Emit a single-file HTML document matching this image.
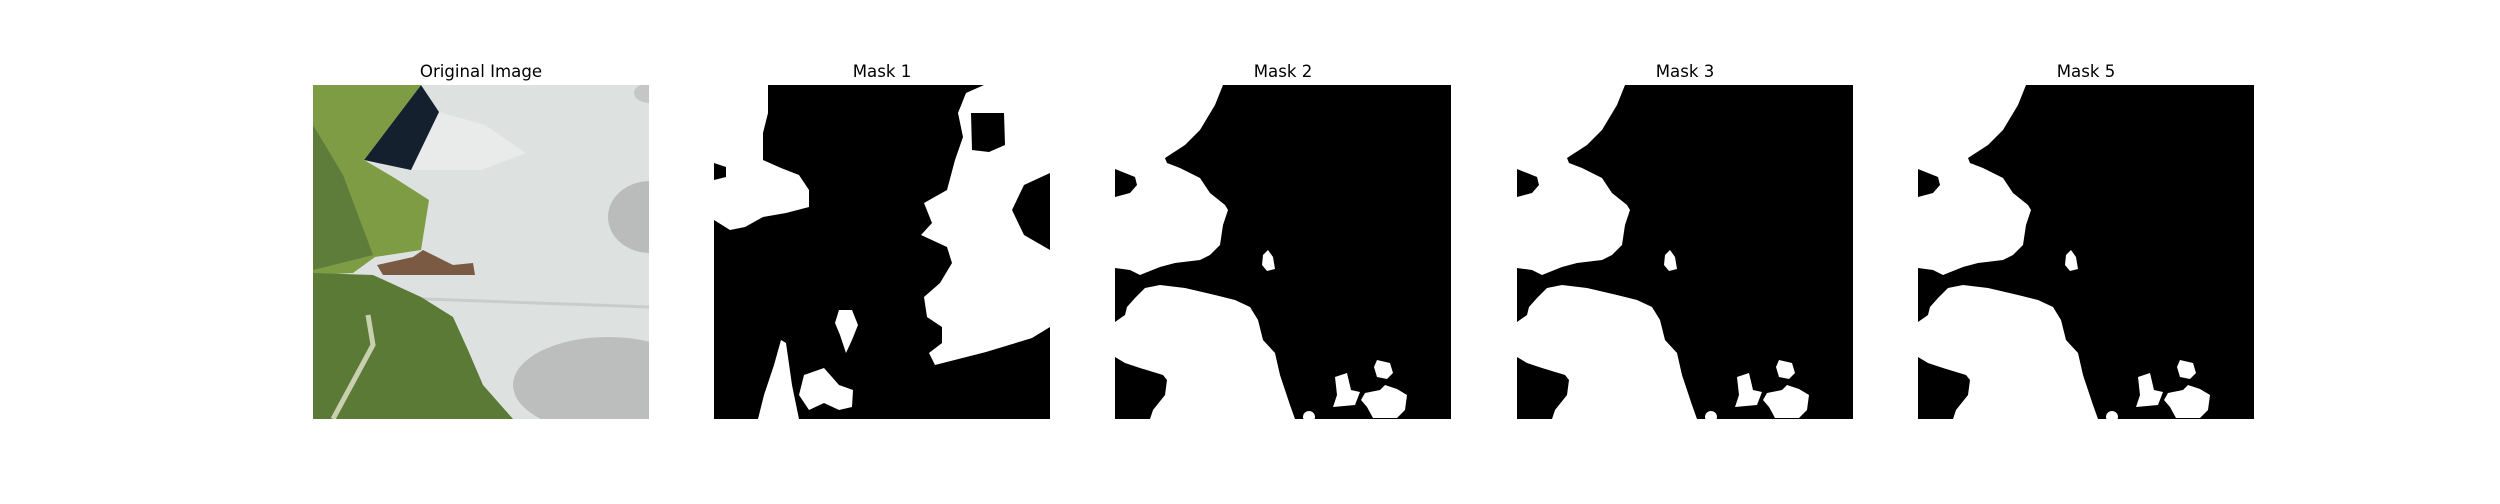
<!DOCTYPE html>
<html><head><meta charset="utf-8"><style>
html,body{margin:0;padding:0;background:#fff;}
body{width:2500px;height:500px;position:relative;overflow:hidden;font-family:"DejaVu Sans","Liberation Sans",sans-serif;}
</style></head><body>
<svg width="2500" height="500" viewBox="0 0 2500 500" xmlns="http://www.w3.org/2000/svg">
<defs>
<clipPath id="c"><rect x="0" y="0" width="336" height="334"/></clipPath>
<g id="mask23">
<rect x="0" y="0" width="336" height="334" fill="#000"/>
<path fill="#fff" d="M0,0 L108,0 L100,20 L85,45 L70,60 L50,73 L52,78 L65,83 L85,93 L95,108 L110,120 L113,125 L108,140 L105,160 L95,170 L85,175 L60,178 L45,182 L35,186 L25,190 L15,185 L0,183 L0,112 L15,108 L22,100 L20,92 L0,84 Z"/>
<path fill="#fff" d="M148,170 L153,165 L158,172 L160,184 L152,186 L147,180 Z"/>
<path fill="#fff" d="M0,237 L10,230 L12,222 L20,213 L30,203 L45,200 L70,203 L100,210 L120,215 L135,222 L143,235 L148,255 L160,268 L165,290 L170,305 L175,320 L180,334 L35,334 L38,325 L50,310 L52,295 L48,290 L25,283 L10,278 L0,272 Z"/>
<circle cx="194" cy="332" r="6" fill="#fff"/>
<path fill="#fff" d="M220,292 L232,288 L236,305 L245,307 L240,320 L218,322 L222,310 Z"/>
<path fill="#fff" d="M262,275 L275,278 L278,288 L272,294 L262,292 L259,282 Z"/>
<path fill="#fff" d="M250,308 L265,305 L270,300 L282,304 L292,310 L290,325 L282,333 L258,333 L252,322 L246,315 Z"/>
</g>
</defs>

<g transform="translate(313,85)">
<g clip-path="url(#c)">
<rect width="336" height="334" fill="#dde2e1"/>
<ellipse cx="337" cy="132" rx="42" ry="36" fill="#b9bcbb"/>
<ellipse cx="295" cy="300" rx="95" ry="48" fill="#bcbebd"/>
<ellipse cx="337" cy="8" rx="16" ry="10" fill="#c4c7c6"/>
<path d="M0,210 L336,222" stroke="#c9cccb" stroke-width="3"/>
<path d="M126,27 L172,40 L213,68 L168,85 L98,85 Z" fill="#e9ebeb"/>
<path d="M108,0 L126,27 L98,85 L51,75 Z" fill="#15202e"/>
<path d="M0,0 L108,0 L51,75 L80,92 L116,115 L108,165 L62,172 L40,188 L0,190 Z" fill="#7d9c44"/>
<path d="M0,40 L30,90 L60,170 L0,185 Z" fill="#5e7c3a"/>
<path d="M64,180 L100,172 L110,165 L140,180 L160,178 L162,190 L70,190 Z" fill="#7a5a42"/>
<path d="M0,188 L60,190 L108,212 L140,232 L155,265 L170,300 L200,334 L0,334 Z" fill="#5b7a35"/>
<path d="M20,334 L60,260 L55,230" stroke="#c8d0b0" stroke-width="5" fill="none"/>
</g>
</g>

<g transform="translate(714,85)">
<g clip-path="url(#c)">
<rect width="336" height="334" fill="#000"/>
<path fill="#fff" d="M0,0 L54,0 L54,28 L49,48 L49,75 L67,83 L85,90 L95,105 L95,122 L72,128 L49,132 L31,142 L16,145 L0,135 L0,95 L12,92 L12,82 L0,78 Z"/>
<path fill="#fff" d="M270,0 L336,0 L336,88 L310,100 L298,125 L310,150 L336,165 L336,242 L318,253 L272,267 L221,280 L215,268 L228,258 L228,242 L213,232 L210,212 L226,198 L238,178 L233,162 L207,150 L218,138 L210,118 L233,105 L241,75 L249,52 L244,28 L252,8 Z"/>
<path fill="#000" d="M257,28 L290,28 L291,60 L275,67 L258,65 Z"/>
<path fill="#fff" d="M67,255 L72,258 L78,300 L85,334 L44,334 L50,310 L60,280 Z"/>
<path fill="#fff" d="M90,290 L110,283 L125,300 L139,305 L138,322 L125,325 L110,318 L95,325 L85,310 Z"/>
<path fill="#fff" d="M125,225 L138,225 L144,240 L138,255 L132,268 L126,250 L121,238 Z"/>
</g>
</g>

<g transform="translate(1115,85)"><use href="#mask23"/></g>
<g transform="translate(1517,85)"><use href="#mask23"/></g>
<g transform="translate(1918,85)"><use href="#mask23"/></g>

<g font-size="16.6" text-anchor="middle" fill="#000" font-family="DejaVu Sans, Liberation Sans, sans-serif">
<text x="481" y="77">Original Image</text>
<text x="882" y="77">Mask 1</text>
<text x="1283" y="77">Mask 2</text>
<text x="1685" y="77">Mask 3</text>
<text x="2086" y="77">Mask 5</text>
</g>
</svg>
</body></html>
